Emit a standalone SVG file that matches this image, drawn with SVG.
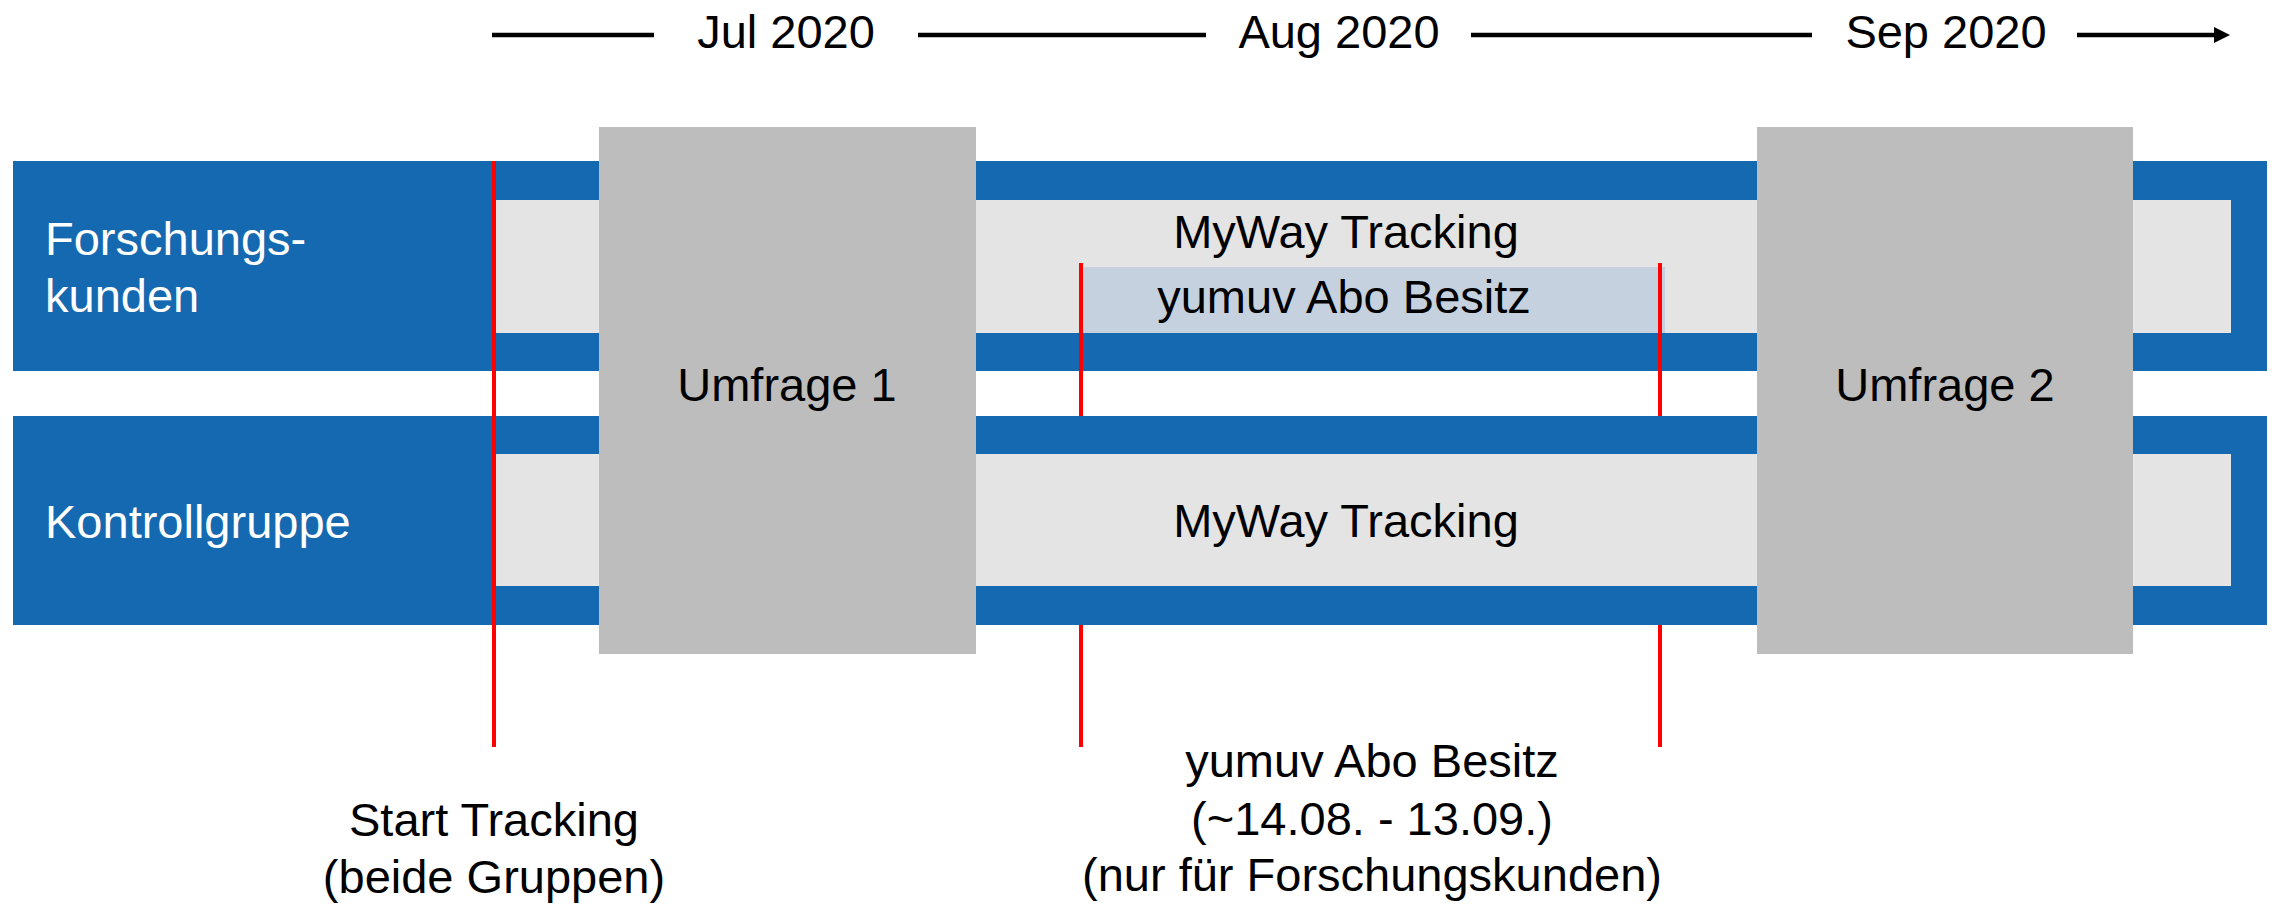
<svg xmlns="http://www.w3.org/2000/svg" width="2272" height="904" viewBox="0 0 2272 904">
  <style>
    text { font-family: "Liberation Sans", Arial, sans-serif; font-size: 47px; fill: #000; }
    .w { fill: #fff; }
    .band { fill: #1569B0; }
    .inner { fill: #E4E4E4; }
    .survey { fill: #BDBDBD; }
    .abo { fill: #C5D1DE; }
    .red { stroke: #FF0000; stroke-width: 4; fill: none; }
    .tl { stroke: #000; stroke-width: 4.5; fill: none; }
  </style>
  <defs>
    <marker id="arr" markerUnits="userSpaceOnUse" markerWidth="18" markerHeight="18" refX="0" refY="8" orient="auto">
      <polygon points="0,0 16,8 0,16" fill="#000"/>
    </marker>
  </defs>

  <g id="timeline">
    <line class="tl" x1="492" y1="35" x2="654" y2="35"/>
    <line class="tl" x1="918" y1="35" x2="1206" y2="35"/>
    <line class="tl" x1="1471" y1="35" x2="1812" y2="35"/>
    <line class="tl" x1="2077" y1="35" x2="2214" y2="35" marker-end="url(#arr)"/>
    <text x="786" y="48" text-anchor="middle">Jul 2020</text>
    <text x="1339" y="48" text-anchor="middle">Aug 2020</text>
    <text x="1946" y="48" text-anchor="middle">Sep 2020</text>
  </g>

  <g id="band-forschungskunden">
    <rect class="band" x="13" y="161" width="2254" height="210"/>
    <rect class="inner" x="496" y="200" width="1735" height="133"/>
    <rect class="abo" x="1083" y="267" width="582" height="66"/>
    <text class="w" x="45" y="255">Forschungs-</text>
    <text class="w" x="45" y="312">kunden</text>
    <text x="1346" y="248" text-anchor="middle">MyWay Tracking</text>
    <text x="1344" y="313" text-anchor="middle">yumuv Abo Besitz</text>
  </g>

  <g id="connectors">
    <line class="red" x1="1081" y1="263" x2="1081" y2="416"/>
    <line class="red" x1="1660" y1="263" x2="1660" y2="416"/>
    <line class="red" x1="1081" y1="625" x2="1081" y2="747"/>
    <line class="red" x1="1660" y1="625" x2="1660" y2="747"/>
  </g>

  <g id="band-kontrollgruppe">
    <rect class="band" x="13" y="416" width="2254" height="209"/>
    <rect class="inner" x="496" y="454" width="1735" height="132"/>
    <text class="w" x="45" y="538">Kontrollgruppe</text>
    <text x="1346" y="537" text-anchor="middle">MyWay Tracking</text>
  </g>

  <g id="start-line">
    <line class="red" x1="494" y1="161" x2="494" y2="747"/>
  </g>

  <g id="umfrage-1">
    <rect class="survey" x="599" y="127" width="377" height="527"/>
    <text x="787" y="401" text-anchor="middle">Umfrage 1</text>
  </g>

  <g id="umfrage-2">
    <rect class="survey" x="1757" y="127" width="376" height="527"/>
    <text x="1945" y="401" text-anchor="middle">Umfrage 2</text>
  </g>

  <g id="label-start">
    <text x="494" y="836" text-anchor="middle">Start Tracking</text>
    <text x="494" y="893" text-anchor="middle">(beide Gruppen)</text>
  </g>

  <g id="label-abo">
    <text x="1372" y="777" text-anchor="middle">yumuv Abo Besitz</text>
    <text x="1372" y="835" text-anchor="middle">(~14.08. - 13.09.)</text>
    <text x="1372" y="891" text-anchor="middle">(nur für Forschungskunden)</text>
  </g>
</svg>
